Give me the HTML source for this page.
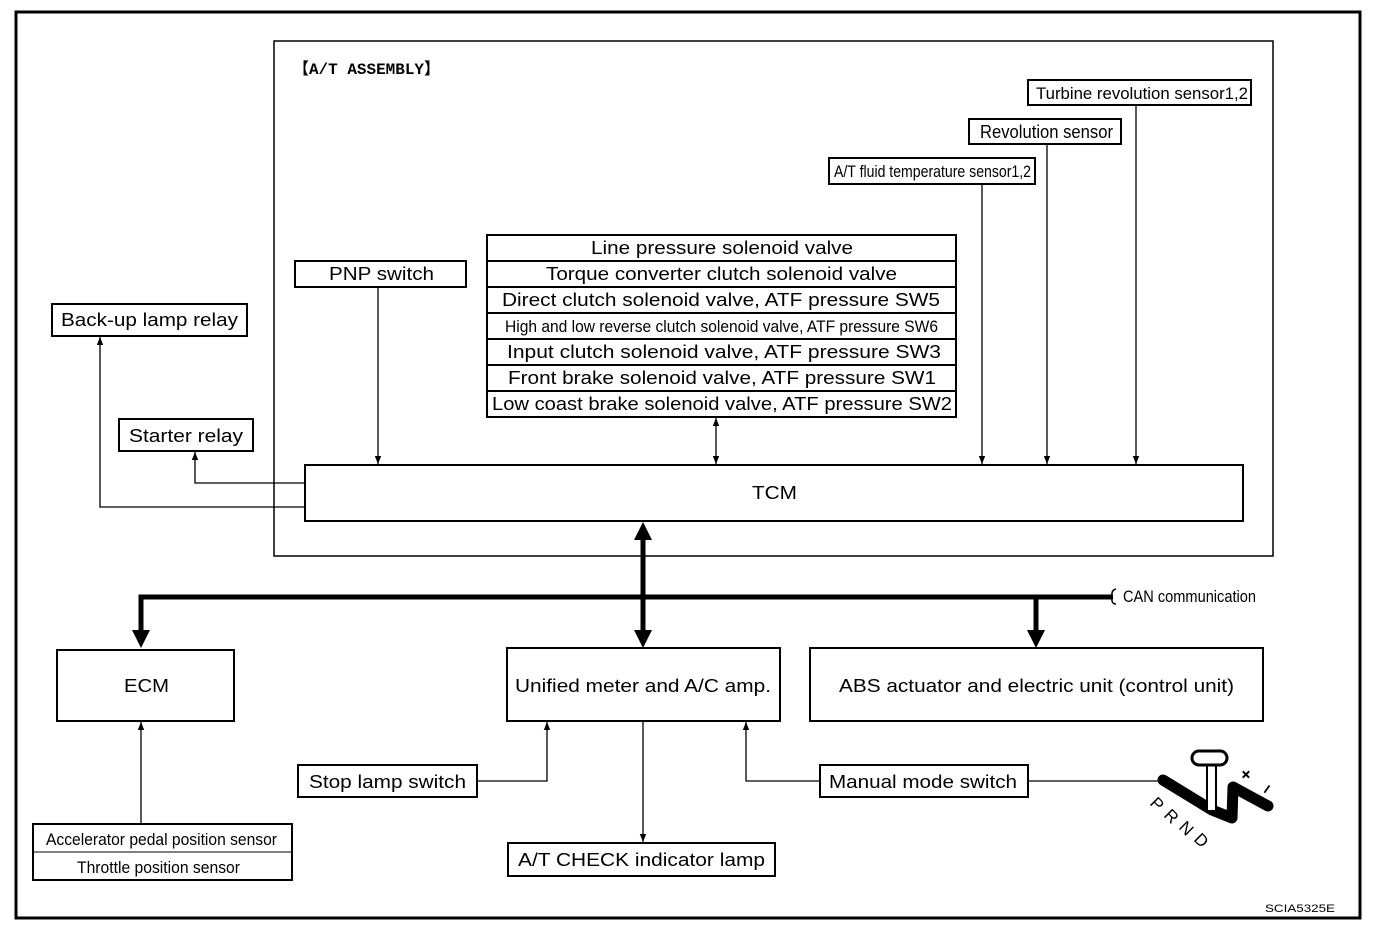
<!DOCTYPE html>
<html><head><meta charset="utf-8"><style>
html,body{margin:0;padding:0;background:#fff;width:1392px;height:930px;overflow:hidden}
svg text{font-family:"Liberation Sans",sans-serif;fill:#000}
</style></head><body>
<svg width="1392" height="930" viewBox="0 0 1392 930" xmlns="http://www.w3.org/2000/svg">
<defs>
<marker id="a" viewBox="0 0 10 10" refX="10" refY="5" markerWidth="8" markerHeight="8" orient="auto-start-reverse" markerUnits="userSpaceOnUse"><path d="M0,1 L10,5 L0,9 z" fill="#000"/></marker>
</defs>
<rect x="16" y="12" width="1344" height="906" fill="none" stroke="#000" stroke-width="3"/>
<rect x="274" y="41" width="999" height="515" fill="none" stroke="#000" stroke-width="1.5"/>
<text x="293" y="74" font-size="16" font-weight="bold" textLength="147" lengthAdjust="spacingAndGlyphs" style="font-family:'Liberation Mono','Noto Sans CJK JP',monospace">【A/T ASSEMBLY】</text>
<g fill="none" stroke="#000" stroke-width="2">
<rect x="1028" y="80" width="223" height="25"/>
<rect x="969" y="119" width="152" height="25"/>
<rect x="829" y="158" width="206" height="26"/>
<rect x="487" y="235" width="469" height="182"/>
<rect x="295" y="261" width="171" height="26"/>
<rect x="52" y="304" width="195" height="32"/>
<rect x="119" y="419" width="134" height="32"/>
<rect x="305" y="465" width="938" height="56"/>
<rect x="57" y="650" width="177" height="71"/>
<rect x="507" y="648" width="273" height="73"/>
<rect x="810" y="648" width="453" height="73"/>
<rect x="33" y="824" width="259" height="56"/>
<rect x="298" y="765" width="179" height="32"/>
<rect x="820" y="765" width="208" height="32"/>
<rect x="508" y="843" width="267" height="33"/>
</g>
<g stroke="#000" stroke-width="2">
<line x1="487" y1="261" x2="956" y2="261"/><line x1="487" y1="287" x2="956" y2="287"/>
<line x1="487" y1="313" x2="956" y2="313"/><line x1="487" y1="339" x2="956" y2="339"/>
<line x1="487" y1="365" x2="956" y2="365"/><line x1="487" y1="391" x2="956" y2="391"/>
<line x1="33" y1="852" x2="292" y2="852" stroke-width="1"/>
</g>
<g stroke="#000" stroke-width="1.3" fill="none">
<line x1="378" y1="287" x2="378" y2="464" marker-end="url(#a)"/>
<line x1="716" y1="418" x2="716" y2="464" marker-end="url(#a)" marker-start="url(#a)"/>
<line x1="982" y1="184" x2="982" y2="464" marker-end="url(#a)"/>
<line x1="1047" y1="144" x2="1047" y2="464" marker-end="url(#a)"/>
<line x1="1136" y1="105" x2="1136" y2="464" marker-end="url(#a)"/>
<polyline points="305,483 195,483 195,452" marker-end="url(#a)"/>
<polyline points="305,507 100,507 100,337" marker-end="url(#a)"/>
<line x1="141" y1="824" x2="141" y2="722" marker-end="url(#a)"/>
<polyline points="477,781 547,781 547,722" marker-end="url(#a)"/>
<polyline points="820,781 746,781 746,722" marker-end="url(#a)"/>
<line x1="1028" y1="781" x2="1162" y2="781"/>
<line x1="643" y1="721" x2="643" y2="842" marker-end="url(#a)"/>
</g>
<g stroke="#000" stroke-width="5" fill="none">
<polyline points="1113,597 141,597 141,632"/>
<line x1="1036" y1="597" x2="1036" y2="632"/>
<line x1="643" y1="540" x2="643" y2="630"/>
</g>
<path d="M132,630 L150,630 L141,648 z M1027,630 L1045,630 L1036,648 z M634,630 L652,630 L643,648 z M634,540 L652,540 L643,522 z" fill="#000"/>
<path d="M1116,589 Q1111,590 1112,597 Q1111,604 1116,604" fill="none" stroke="#000" stroke-width="1.5"/>
<g font-size="18" lengthAdjust="spacingAndGlyphs">
<text x="591" y="254" textLength="262" lengthAdjust="spacingAndGlyphs">Line pressure solenoid valve</text>
<text x="546" y="280" textLength="351" lengthAdjust="spacingAndGlyphs">Torque converter clutch solenoid valve</text>
<text x="502" y="306" textLength="438" lengthAdjust="spacingAndGlyphs">Direct clutch solenoid valve, ATF pressure SW5</text>
<text x="507" y="358" textLength="434" lengthAdjust="spacingAndGlyphs">Input clutch solenoid valve,  ATF pressure SW3</text>
<text x="508" y="384" textLength="428" lengthAdjust="spacingAndGlyphs">Front brake solenoid valve, ATF pressure SW1</text>
<text x="492" y="410" textLength="460" lengthAdjust="spacingAndGlyphs">Low coast brake solenoid valve, ATF pressure SW2</text>
<text x="329" y="280" textLength="105" lengthAdjust="spacingAndGlyphs">PNP switch</text>
<text x="61" y="326" textLength="177" lengthAdjust="spacingAndGlyphs">Back-up lamp relay</text>
<text x="129" y="442" textLength="114" lengthAdjust="spacingAndGlyphs">Starter relay</text>
<text x="752" y="499" textLength="45" lengthAdjust="spacingAndGlyphs">TCM</text>
<text x="124" y="692" textLength="45" lengthAdjust="spacingAndGlyphs">ECM</text>
<text x="515" y="692" textLength="256" lengthAdjust="spacingAndGlyphs">Unified meter and A/C amp.</text>
<text x="839" y="692" textLength="395" lengthAdjust="spacingAndGlyphs">ABS actuator and electric unit (control unit)</text>
<text x="309" y="788" textLength="157" lengthAdjust="spacingAndGlyphs">Stop lamp switch</text>
<text x="829" y="788" textLength="188" lengthAdjust="spacingAndGlyphs">Manual mode switch</text>
<text x="518" y="866" textLength="247" lengthAdjust="spacingAndGlyphs">A/T CHECK indicator lamp</text>
<text x="980" y="138" textLength="133" lengthAdjust="spacingAndGlyphs">Revolution sensor</text>
</g>
<g font-size="17">
<text x="505" y="332" textLength="433" lengthAdjust="spacingAndGlyphs">High and low reverse clutch solenoid valve, ATF pressure SW6</text>
<text x="1036" y="99" textLength="212" lengthAdjust="spacingAndGlyphs">Turbine revolution sensor1,2</text>
<text x="834" y="177" textLength="197" lengthAdjust="spacingAndGlyphs">A/T fluid temperature sensor1,2</text>
<text x="46" y="845" textLength="231" lengthAdjust="spacingAndGlyphs">Accelerator pedal position sensor</text>
<text x="77" y="873" textLength="163" lengthAdjust="spacingAndGlyphs">Throttle position sensor</text>
<text x="1123" y="602" textLength="133" lengthAdjust="spacingAndGlyphs">CAN communication</text>
</g>
<text x="1265" y="912" font-size="11" textLength="70" lengthAdjust="spacingAndGlyphs">SCIA5325E</text>
<g>
<path d="M1163,780 L1212,810 L1232,818 L1233,787 L1268,806" fill="none" stroke="#000" stroke-width="11" stroke-linecap="round" stroke-linejoin="round"/>
<rect x="1207" y="765" width="9" height="46" fill="#fff" stroke="#000" stroke-width="2"/>
<rect x="1192" y="751" width="35" height="14" rx="7" fill="#fff" stroke="#000" stroke-width="3"/>
<g font-size="17">
<text transform="translate(1149,804) rotate(45)">P</text>
<text transform="translate(1163,816) rotate(45)">R</text>
<text transform="translate(1178,828) rotate(45)">N</text>
<text transform="translate(1193,840) rotate(45)">D</text>
<text transform="translate(1238,775) rotate(45)" font-size="18" font-weight="bold">+</text>
<text transform="translate(1268,796) rotate(-55)" font-size="18" font-weight="bold">–</text>
</g>
</g>
</svg>
</body></html>
